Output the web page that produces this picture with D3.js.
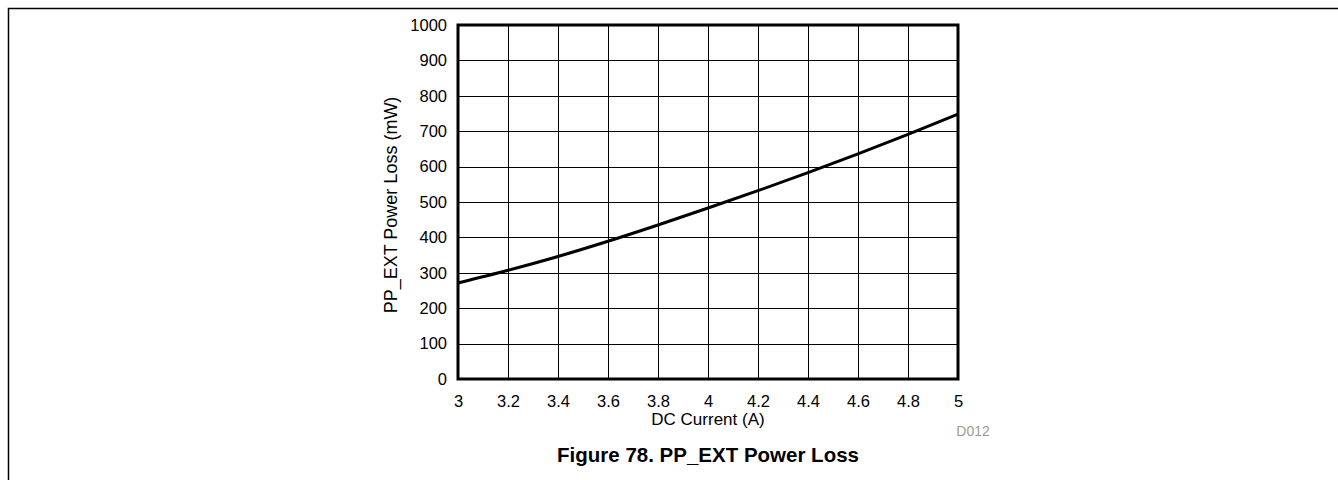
<!DOCTYPE html>
<html><head><meta charset="utf-8">
<script src="https://cdn.jsdelivr.net/npm/d3@7"></script>
<style>body{margin:0;background:#fff;} svg{display:block;font-family:Arial,"Liberation Sans",sans-serif;}</style>
</head><body>
<svg id="c" width="1338" height="480"></svg>
<script>
const current = [3.0, 3.2, 3.4, 3.6, 3.8, 4.0, 4.2, 4.4, 4.6, 4.8, 5.0];
const powerLoss = [271, 307, 346, 389, 435, 483, 532, 583, 636, 691, 748];
const xTicks = [3, 3.2, 3.4, 3.6, 3.8, 4, 4.2, 4.4, 4.6, 4.8, 5];
const yTicks = [0, 100, 200, 300, 400, 500, 600, 700, 800, 900, 1000];

const svg = d3.select("#c");
const L = 458, R = 958, T = 25, B = 379;
const x = d3.scaleLinear().domain([3, 5]).range([L, R]);
const y = d3.scaleLinear().domain([0, 1000]).range([B, T]);
const FONT = "Arial, 'Liberation Sans', sans-serif";

// outer frame
svg.append("path").attr("d", "M8.5,480 V8.5 H1338").attr("fill", "none").attr("stroke", "#000").attr("stroke-width", 1.5);

// grid
svg.append("g").selectAll("line").data(xTicks.slice(1, -1)).join("line")
  .attr("x1", d => Math.round(x(d)) + 0.5).attr("x2", d => Math.round(x(d)) + 0.5)
  .attr("y1", T).attr("y2", B).attr("stroke", "#000").attr("stroke-width", 1);
svg.append("g").selectAll("line").data(yTicks.slice(1, -1)).join("line")
  .attr("y1", d => Math.round(y(d)) + 0.5).attr("y2", d => Math.round(y(d)) + 0.5)
  .attr("x1", L).attr("x2", R).attr("stroke", "#000").attr("stroke-width", 1);

// axes labels via d3 axis
const xAxis = svg.append("g").attr("transform", `translate(0,${B})`)
  .call(d3.axisBottom(x).tickValues(xTicks).tickFormat(d3.format("")).tickSize(0).tickPadding(16));
const yAxis = svg.append("g").attr("transform", `translate(${L},0)`)
  .call(d3.axisLeft(y).tickValues(yTicks).tickFormat(d3.format("")).tickSize(0).tickPadding(11));
[xAxis, yAxis].forEach(g => {
  g.select(".domain").remove();
  g.selectAll("text").attr("font-size", 16.5).attr("fill", "#000").attr("font-family", FONT);
});

// curve
svg.append("path").datum(current.map((c, i) => [c, powerLoss[i]]))
  .attr("fill", "none").attr("stroke", "#000").attr("stroke-width", 3)
  .attr("d", d3.line().x(d => x(d[0])).y(d => y(d[1])).curve(d3.curveMonotoneX));

// plot border
svg.append("rect").attr("x", L).attr("y", T).attr("width", R - L).attr("height", B - T)
  .attr("fill", "none").attr("stroke", "#000").attr("stroke-width", 3);

// titles
svg.append("text").attr("x", (L + R) / 2).attr("y", 425).attr("text-anchor", "middle")
  .attr("font-size", 17).text("DC Current (A)");
svg.append("text").attr("transform", `translate(397,${(T + B) / 2 + 3}) rotate(-90)`).attr("text-anchor", "middle")
  .attr("font-size", 18).text("PP_EXT Power Loss (mW)");
svg.append("text").attr("x", 973).attr("y", 436).attr("text-anchor", "middle")
  .attr("font-size", 14).attr("fill", "#999").text("D012");
svg.append("text").attr("x", (L + R) / 2).attr("y", 462).attr("text-anchor", "middle")
  .attr("font-size", 20.5).attr("font-weight", "bold")
  .text("Figure 78. PP_EXT Power Loss");
</script>
</body></html>
